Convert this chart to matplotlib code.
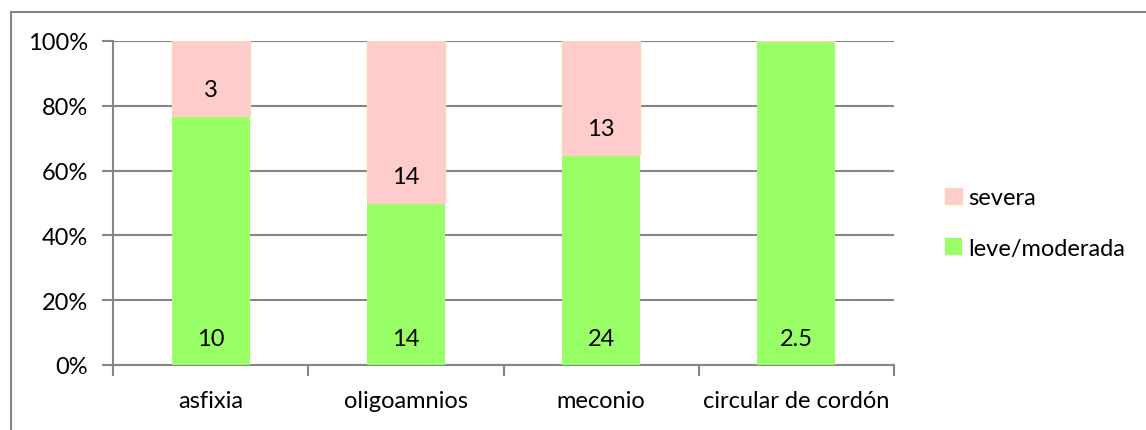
import matplotlib.pyplot as plt
from matplotlib.patches import Rectangle, Patch
from matplotlib.ticker import PercentFormatter

# data
categories = ['asfixia', 'oligoamnios', 'meconio', 'circular de cordón']
leve = [10, 14, 24, 2.5]
severa = [3, 14, 13, 0]
leve_labels = ['10', '14', '24', '2.5']
severa_labels = ['3', '14', '13', '']

green = '#99ff66'
pink = '#ffcccc'
pink_edge = '#fcd5b5'
grid_c = '#868686'
fs = 17

plt.rcParams['font.family'] = ['Lato', 'DejaVu Sans']

W, H = 1146, 431
fig = plt.figure(figsize=(W / 100, H / 100), dpi=100)
ax = fig.add_axes([113 / W, (H - 366) / H, (894 - 113) / W, (366 - 42) / H])

# outer chart border
fig.add_artist(Rectangle((11 / W, -0.1), 1.2, (H - 13) / H + 0.1,
                         transform=fig.transFigure, fill=False,
                         edgecolor=grid_c, linewidth=1.5))

x = range(len(categories))
tot = [a + b for a, b in zip(leve, severa)]
p_leve = [100 * a / t for a, t in zip(leve, tot)]
p_sev = [100 * b / t for b, t in zip(severa, tot)]

ax.bar(x, p_leve, width=0.4, color=green, zorder=3)
ax.bar(x, p_sev, width=0.4, bottom=p_leve, color=pink,
       edgecolor=pink_edge, linewidth=1, zorder=3)

for i in x:
    ax.annotate(leve_labels[i], (i, 0), xytext=(0, 19), textcoords='offset points',
                ha='center', va='center', fontsize=fs, zorder=4)
    if severa_labels[i]:
        ax.annotate(severa_labels[i], (i, p_leve[i]), xytext=(0, 19),
                    textcoords='offset points', ha='center', va='center',
                    fontsize=fs, zorder=4)

ax.set_xlim(-0.5, len(categories) - 0.5)
ax.set_ylim(0, 100)
ax.set_yticks(range(0, 101, 20))
ax.yaxis.set_major_formatter(PercentFormatter(decimals=0))
ax.grid(axis='y', color=grid_c, linewidth=1.5, zorder=0)

ax.set_xticks([i - 0.5 for i in range(len(categories) + 1)], minor=True)
ax.set_xticks(list(x))
ax.set_xticklabels(categories)
ax.tick_params(axis='x', which='major', length=0, labelsize=fs, pad=18)
ax.tick_params(axis='x', which='minor', length=8, color=grid_c, width=1.5)
ax.tick_params(axis='y', length=8, color=grid_c, width=1.5, labelsize=fs, pad=10)

for s in ['top', 'right']:
    ax.spines[s].set_visible(False)
for s in ['left', 'bottom']:
    ax.spines[s].set_color(grid_c)
    ax.spines[s].set_linewidth(1.5)

handles = [Patch(facecolor=pink, edgecolor=pink_edge, label='severa'),
           Patch(facecolor=green, label='leve/moderada')]
fig.legend(handles=handles, loc='center left', bbox_to_anchor=(945 / W, 1 - 224 / H),
           frameon=False, fontsize=fs, handlelength=0.7, handleheight=0.7,
           handletextpad=0.3, labelspacing=1.25, borderaxespad=0, borderpad=0)

fig.savefig('out.png', dpi=100)
